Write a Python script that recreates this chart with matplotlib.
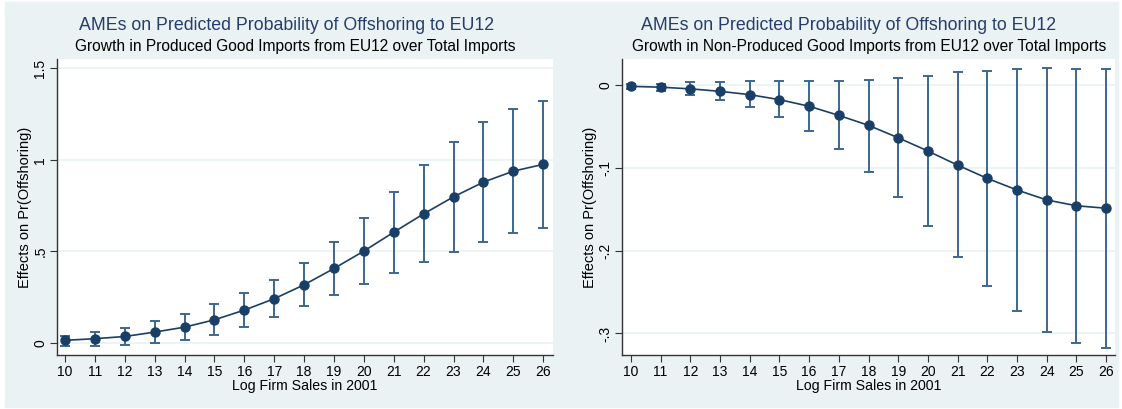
import matplotlib.pyplot as plt
from matplotlib.patches import Rectangle

plt.rcParams['font.family'] = ['Liberation Sans', 'DejaVu Sans']

# Data
sales = list(range(10, 27))

prod_ame = [0.015, 0.024, 0.036, 0.060, 0.087, 0.127, 0.180, 0.242, 0.318,
            0.407, 0.502, 0.605, 0.705, 0.798, 0.878, 0.938, 0.975]
prod_hi = [0.040, 0.060, 0.085, 0.118, 0.160, 0.211, 0.271, 0.345, 0.436,
           0.549, 0.682, 0.825, 0.969, 1.098, 1.204, 1.278, 1.320]
prod_lo = [-0.015, -0.015, -0.010, 0.000, 0.016, 0.045, 0.087, 0.140, 0.200,
           0.264, 0.324, 0.382, 0.440, 0.496, 0.551, 0.600, 0.629]

nonprod_ame = [-0.002, -0.003, -0.005, -0.008, -0.012, -0.018, -0.026, -0.037, -0.049,
               -0.064, -0.080, -0.097, -0.113, -0.127, -0.139, -0.146, -0.149]
nonprod_hi = [0.001, 0.001, 0.003, 0.003, 0.004, 0.004, 0.004, 0.005, 0.006,
              0.008, 0.011, 0.015, 0.017, 0.019, 0.020, 0.019, 0.019]
nonprod_lo = [-0.005, -0.007, -0.012, -0.018, -0.027, -0.039, -0.056, -0.078, -0.105,
              -0.136, -0.171, -0.208, -0.243, -0.273, -0.298, -0.312, -0.317]

title = "AMEs on Predicted Probability of Offshoring to EU12"
subtitles = ["Growth in Produced Good Imports from EU12 over Total Imports",
             "Growth in Non-Produced Good Imports from EU12 over Total Imports"]

navy = '#1a3f66'
ci_col = '#3b6791'
bg = '#eaf2f3'

fig = plt.figure(figsize=(11.22, 4.09), dpi=100)
fig.patches.append(Rectangle((5 / 1122, 2 / 409), 1113 / 1122, 405 / 409,
                             transform=fig.transFigure, color=bg, zorder=-5))

ax1 = fig.add_axes([57 / 1122, 1 - 355 / 409, 496 / 1122, 296 / 409])
ax2 = fig.add_axes([622 / 1122, 1 - 355 / 409, 493 / 1122, 296 / 409])

# axis, values, ticks, limits, title/subtitle horizontal centres (axes fraction)
panels = [
    (ax1, prod_ame, prod_lo, prod_hi, [0, 0.5, 1, 1.5], ['0', '.5', '1', '1.5'],
     (-0.065, 1.55), (9.73, 26.33), 0.462, 0.480),
    (ax2, nonprod_ame, nonprod_lo, nonprod_hi, [-0.3, -0.2, -0.1, 0], ['-.3', '-.2', '-.1', '0'],
     (-0.326, 0.031), (9.70, 26.30), 0.459, 0.502),
]

for i, (ax, ame, lo, hi, yt, ytl, ylim, xlim, tx, sx) in enumerate(panels):
    err = [[a - l for a, l in zip(ame, lo)], [h - a for a, h in zip(ame, hi)]]
    ax.errorbar(sales, ame, yerr=err, fmt='none', ecolor=ci_col, elinewidth=1.4,
                capsize=3.5, capthick=1.4, zorder=2)
    ax.plot(sales, ame, color=navy, linewidth=1.2, marker='o', markersize=6.5, zorder=3)

    ax.set_xlim(*xlim)
    ax.set_ylim(*ylim)
    ax.set_xticks(sales)
    ax.set_yticks(yt)
    ax.set_yticklabels(ytl, rotation=90, va='center')
    ax.grid(axis='y', color=bg, linewidth=1.2)
    ax.set_axisbelow(True)
    for s in ['top', 'right']:
        ax.spines[s].set_visible(False)
    for s in ['left', 'bottom']:
        ax.spines[s].set_color('#333333')
        ax.spines[s].set_linewidth(1.0)
    ax.tick_params(labelsize=10, length=5, color='#333333', pad=2)
    ax.set_xlabel("Log Firm Sales in 2001", fontsize=10.2, labelpad=0)
    ax.set_ylabel("Effects on Pr(Offshoring)", fontsize=10.5, labelpad=1)

    ax.text(tx, 1 + 34 / 296, title, transform=ax.transAxes, ha='center',
            va='center', fontsize=12.8, color='#253d6d')
    ax.text(sx, 1 + 13 / 296, subtitles[i], transform=ax.transAxes, ha='center',
            va='center', fontsize=11.2, color='black')

plt.savefig('out.png', dpi=100, facecolor='white')
